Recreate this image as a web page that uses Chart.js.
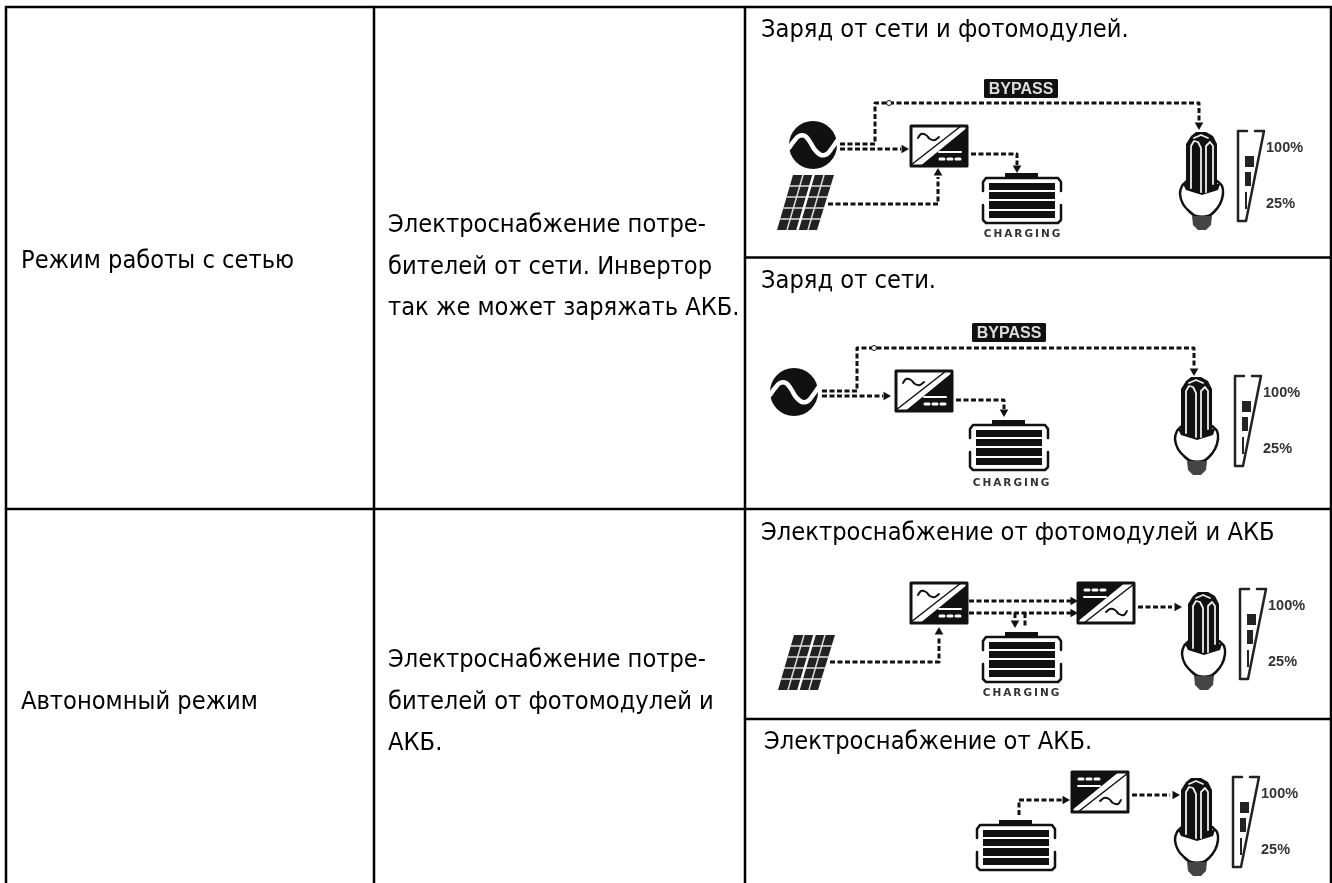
<!DOCTYPE html>
<html lang="ru">
<head>
<meta charset="utf-8">
<title>Режимы работы</title>
<style>
html, body { margin: 0; background: #fff; }
canvas { display: block; }
</style>
<script src="https://cdn.jsdelivr.net/npm/chart.js@4/dist/chart.umd.min.js"></script>
</head>
<body>
<canvas id="modes" width="1332" height="883"></canvas>
<script>
// Text of the table
const modeNames = ["Режим работы с сетью", "Автономный режим"];
const modeDescriptions = [
    ["Электроснабжение потре-", "бителей от сети. Инвертор", "так же может заряжать АКБ."],
    ["Электроснабжение потре-", "бителей от фотомодулей и", "АКБ."]
];
const sourceCaptions = [
    "Заряд от сети и фотомодулей.",
    "Заряд от сети.",
    "Электроснабжение от фотомодулей и АКБ",
    "Электроснабжение от АКБ."
];

// Table rules
const tableVerticals = [6, 374, 745, 1331];
const tableHorizontals = [[6, 1331, 7], [745, 1331, 257.5], [6, 1331, 509], [745, 1331, 719]];

// Where each picture goes
const gridSpots = [[813, 145], [794, 392]];
const inverterSpots = [[910, 125], [895, 370], [910, 582]];
const flippedInverterSpots = [[1077, 582], [1071, 771]];
const batterySpots = [[982, 173], [969, 420], [982, 632], [976, 820]];
const panelSpots = [[777, 175], [778, 635]];
const lampSpots = [[1180, 132], [1175, 377], [1182, 592], [1175, 778]];
const wedgeSpots = [[1237, 130], [1234, 375], [1239, 588], [1232, 776]];
const bypassSpots = [[984, 79], [972, 323]];
const chargingSpots = [[1023, 233], [1012, 482], [1022, 692]];
const bypassNodes = [[889, 103], [874, 348]];

// Icon outlines
const sineWave = [[-24, 3], [-19, -4], [-14, -9], [-8, -9], [-3, -3], [2, 5], [8, 10], [14, 9], [19, 3], [24, -4]];
const inverterBox = [[1, 1], [57, 1], [57, 41], [1, 41], [1, 1]];
const inverterDark = [[58, 2], [58, 42], [9, 42]];
const inverterSlash = [[51, 1], [1, 40]];
const inverterSine = [[8, 13], [11, 9], [16, 10], [20, 14], [25, 15], [29, 12]];
const inverterBar = [[29, 27], [51, 27]];
const inverterDots = [[[30, 34], [34, 34]], [[38, 34], [42, 34]], [[46, 34], [50, 34]]];
const batteryCap = [[23, 0], [56, 0], [56, 5], [23, 5]];
const batteryTop = [[1, 18], [1, 9], [4, 5], [76, 5], [79, 9], [79, 18]];
const batteryBottom = [[1, 32], [1, 47], [4, 50], [76, 50], [79, 47], [79, 32]];
const batteryCells = [[10, 17], [19, 26], [28, 36], [38, 45]];
const panelBody = [[16, 0], [57, 0], [40, 55], [0, 55]];
const panelRows = [[[13, 11], [54, 11]], [[10, 22], [51, 22]], [[6, 33], [47, 33]], [[3, 44], [44, 44]]];
const panelCols = [[[26, 0], [10, 55]], [[47, 0], [31, 55]]];
const panelMiddle = [[36.5, 0], [20.5, 55]];
const lampBell = [[7, 49], [2, 54], [0, 62], [3, 72], [10, 80], [16, 84], [28, 84], [34, 80], [40, 72], [43, 62], [42, 54], [37, 49]];
const lampCollar = [[3, 52], [40, 52], [38, 58], [22, 63], [6, 58]];
const lampTube = [[6, 58], [6, 12], [11, 4], [16, 0], [26, 0], [33, 4], [37, 12], [37, 58]];
const lampSlits = [
    [[11, 56], [11, 14], [14, 9], [18, 10], [21, 16], [21, 60]],
    [[26, 60], [26, 14], [30, 10], [33, 14], [33, 52]],
    [[14, 6], [21, 3], [28, 6]]
];
const lampScrew = [[12, 84], [32, 84], [31, 93], [26, 98], [18, 98], [13, 93]];
const wedgeOutline = [[10, 1], [1, 1], [1, 91], [9, 91], [27, 1], [18, 1]];
const wedgeBlocks = [[8, 17, 26, 37], [8, 14, 42, 56], [8, 10, 62, 79]];
const bypassBox = [[1, 0], [73, 0], [74, 1], [74, 18], [73, 19], [1, 19], [0, 18], [0, 1]];

// Dashed wiring
const wires = [
    [[840, 144], [875, 144], [875, 103], [1199, 103], [1199, 122]],
    [[840, 149], [901, 149]],
    [[971, 154], [1017, 154], [1017, 165]],
    [[828, 204], [938, 204], [938, 177]],
    [[822, 391], [857, 391], [857, 348], [1194, 348], [1194, 367]],
    [[822, 396], [883, 396]],
    [[956, 400], [1004, 400], [1004, 409]],
    [[969, 601], [1071, 601]],
    [[969, 613], [1071, 613]],
    [[1015, 613], [1015, 620]],
    [[1025, 613], [1025, 628]],
    [[830, 662], [939, 662], [939, 636]],
    [[1138, 607], [1172, 607]],
    [[1019, 815], [1019, 800], [1062, 800]],
    [[1132, 795], [1170, 795]]
];
const arrowsRight = [[904, 149], [886, 396], [1073, 601], [1073, 613], [1177, 607], [1065, 800], [1175, 795]];
const arrowsDown = [[1199, 125], [1017, 168], [1194, 371], [1004, 412], [1015, 623]];
const arrowsUp = [[938, 173], [939, 632]];

const INK = "#111";
const ICON_BLUR = "blur(0.6px)";
const datasets = [];

function addLine(points, width, color, dash, tension) {
    datasets.push({
        data: points.map(p => ({ x: p[0], y: p[1] })),
        showLine: true,
        pointRadius: 0,
        borderWidth: width,
        borderColor: color || INK,
        borderDash: dash || [],
        borderCapStyle: dash ? "butt" : "round",
        borderJoinStyle: "round",
        tension: tension || 0,
        fill: false,
        order: -datasets.length
    });
}

function addShape(points, color) {
    datasets.push({
        data: points.map(p => ({ x: p[0], y: p[1] })),
        showLine: true,
        pointRadius: 0,
        borderWidth: 0,
        backgroundColor: color || INK,
        fill: "shape",
        order: -datasets.length
    });
}

function addPoints(points, style, radius, rotation, color) {
    datasets.push({
        data: points.map(p => ({ x: p[0], y: p[1] })),
        showLine: false,
        pointStyle: style,
        pointRadius: radius,
        pointRotation: rotation,
        backgroundColor: color || INK,
        borderColor: INK,
        borderWidth: color ? 1 : 0,
        order: -datasets.length
    });
}

const moved = (points, spot) => points.map(p => [p[0] + spot[0], p[1] + spot[1]]);
const turned = (points, spot) => points.map(p => [spot[0] + 58 - p[0], spot[1] + 42 - p[1]]);

// Table
tableVerticals.forEach(x => addLine([[x, 7], [x, 883]], 2.5, "#000"));
tableHorizontals.forEach(h => addLine([[h[0], h[2]], [h[1], h[2]]], 2.5, "#000"));
const tableLineCount = datasets.length;

// Wiring goes under the icons
wires.forEach(w => addLine(w, 3, INK, [5, 2.5]));
addPoints(arrowsRight, "triangle", 5, 90);
addPoints(arrowsDown, "triangle", 5, 180);
addPoints(arrowsUp, "triangle", 5, 0);
addPoints(bypassNodes, "circle", 2.5, 0, "#fff");

// Mains
addPoints(gridSpots, "circle", 24, 0);
gridSpots.forEach(s => addLine(moved(sineWave, s), 4.5, "#fff", null, 0.35));

// Inverters
function addInverter(spot, place) {
    addLine(place(inverterBox, spot), 3);
    addShape(place(inverterDark, spot));
    addLine(place(inverterSlash, spot), 1.5);
    addLine(place(inverterSine, spot), 2, INK, null, 0.3);
    addLine(place(inverterBar, spot), 2, "#fff");
    inverterDots.forEach(d => addLine(place(d, spot), 3, "#fff"));
}
inverterSpots.forEach(s => addInverter(s, moved));
flippedInverterSpots.forEach(s => addInverter(s, turned));

// Batteries
batterySpots.forEach(s => {
    addShape(moved(batteryCap, s));
    addLine(moved(batteryTop, s), 2.5);
    addLine(moved(batteryBottom, s), 2.5);
    batteryCells.forEach(c => addShape(moved([[7, c[0]], [73, c[0]], [73, c[1]], [7, c[1]]], s)));
});

// Solar panels
panelSpots.forEach(s => {
    addShape(moved(panelBody, s), "#222");
    panelRows.forEach(r => addLine(moved(r, s), 1.5, "#ddd"));
    panelCols.forEach(c => addLine(moved(c, s), 1.5, "#ddd"));
    addLine(moved(panelMiddle, s), 2.5, "#fff");
});

// Lamps
lampSpots.forEach(s => {
    addLine(moved(lampBell, s), 2.5, INK, null, 0.3);
    addShape(moved(lampCollar, s));
    addShape(moved(lampScrew, s), "#444");
    addShape(moved(lampTube, s));
    lampSlits.forEach(l => addLine(moved(l, s), 1.8, "#eee"));
});

// Load level wedges
wedgeSpots.forEach(s => {
    addLine(moved(wedgeOutline, s), 2.5, "#222");
    wedgeBlocks.forEach(b => addShape(moved([[b[0], b[2]], [b[1], b[2]], [b[1], b[3]], [b[0], b[3]]], s), "#222"));
});

// BYPASS labels sit on a dark box
bypassSpots.forEach(s => addShape(moved(bypassBox, s)));

const tableFont = "25.2px 'DejaVu Sans Condensed', 'DejaVu Sans'";
const modeLabelY = [268, 709];
const modeLineY = [[232, 274, 315], [667, 709, 750]];
const captionSpots = [[761, 37], [761, 288], [761, 540], [764, 749]];

// The source pictures are soft scans, the table is crisp
const softIcons = {
    id: "softIcons",
    beforeDatasetsDraw(chart) { chart.ctx.filter = ICON_BLUR; },
    beforeDatasetDraw(chart, args) { chart.ctx.filter = args.index < tableLineCount ? "none" : ICON_BLUR; },
    afterDatasetsDraw(chart) { chart.ctx.filter = "none"; }
};

const textPlugin = {
    id: "tableText",
    afterDatasetsDraw(chart) {
        const c = chart.ctx;
        const sx = chart.scales.x;
        const sy = chart.scales.y;
        const put = (text, x, y, font, color, align) => {
            c.font = font;
            c.fillStyle = color || "#000";
            c.textAlign = align || "left";
            c.textBaseline = "alphabetic";
            c.fillText(text, sx.getPixelForValue(x), sy.getPixelForValue(y));
        };
        c.save();
        modeNames.forEach((t, i) => put(t, 21, modeLabelY[i], tableFont));
        modeDescriptions.forEach((lines, i) => lines.forEach((t, j) => put(t, 388, modeLineY[i][j], tableFont)));
        sourceCaptions.forEach((t, i) => put(t, captionSpots[i][0], captionSpots[i][1], tableFont));
        c.filter = ICON_BLUR;
        bypassSpots.forEach(s => put("BYPASS", s[0] + 37, s[1] + 15, "bold 16px 'Liberation Sans'", "#ddd", "center"));
        c.letterSpacing = "2px";
        chargingSpots.forEach(s => put("CHARGING", s[0], s[1] + 4, "bold 10.5px 'DejaVu Sans'", "#333", "center"));
        c.letterSpacing = "0px";
        wedgeSpots.forEach(s => {
            put("100%", s[0] + 29, s[1] + 22, "bold 14.5px 'Liberation Sans'", "#333");
            put("25%", s[0] + 29, s[1] + 78, "bold 14.5px 'Liberation Sans'", "#333");
        });
        c.restore();
    }
};

new Chart(document.getElementById("modes"), {
    type: "scatter",
    data: { datasets: datasets },
    plugins: [softIcons, textPlugin],
    options: {
        responsive: false,
        animation: false,
        layout: { padding: 0, autoPadding: false },
        plugins: { legend: { display: false }, tooltip: { enabled: false } },
        scales: {
            x: { type: "linear", min: 0, max: 1332, display: false },
            y: { type: "linear", min: 0, max: 883, reverse: true, display: false }
        }
    }
});
</script>
</body>
</html>
